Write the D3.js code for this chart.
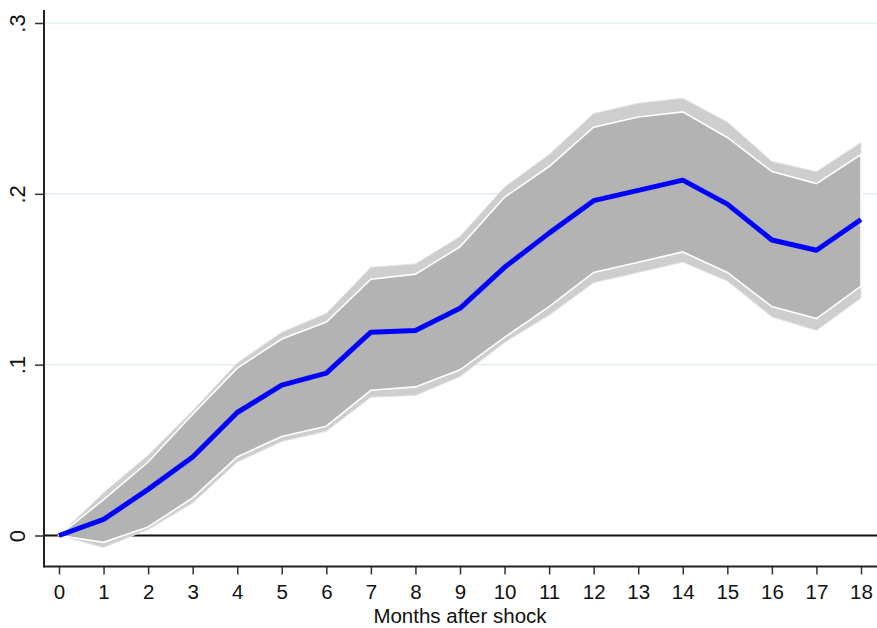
<!DOCTYPE html>
<html><head><meta charset="utf-8">
<script src="https://cdn.jsdelivr.net/npm/d3@7"></script>
<style>body{margin:0;background:#fff}svg{display:block}</style>
</head><body>
<svg id="c" width="877" height="628"></svg>
<script>
const months = [0,1,2,3,4,5,6,7,8,9,10,11,12,13,14,15,16,17,18];
const irf     = [0,.0094,.027,.046,.072,.088,.095,.119,.120,.133,.157,.177,.196,.202,.208,.194,.173,.167,.185];
const hi68    = [0,.021,.043,.071,.098,.115,.125,.150,.153,.169,.198,.216,.239,.245,.248,.233,.213,.206,.223];
const lo68    = [0,-.004,.005,.022,.046,.058,.064,.085,.087,.097,.116,.134,.154,.160,.166,.154,.134,.127,.146];
const hi90    = [0,.025,.047,.073,.101,.119,.130,.157,.159,.175,.204,.223,.247,.253,.256,.242,.219,.213,.230];
const lo90    = [0,-.007,.0035,.019,.043,.055,.061,.081,.082,.093,.113,.129,.148,.154,.160,.149,.128,.120,.139];
const yTicks  = [0,.1,.2,.3];
const yTickLabels = ["0",".1",".2",".3"];
const xTitle = "Months after shock";

const svg = d3.select("#c");
const font = "'Liberation Sans', Arial, sans-serif";
const x = d3.scaleLinear().domain([0,18]).range([59,861]);
const y = d3.scaleLinear().domain([0,.3]).range([535.5,23]);
const axisX = 44, axisY = 566.5, topY = 10, rightX = 877;

// gridlines
svg.append("g").selectAll("line").data(yTicks.filter(d=>d>0)).join("line")
  .attr("x1",axisX).attr("x2",rightX).attr("y1",d=>y(d)).attr("y2",d=>y(d))
  .attr("stroke","#e6eff0").attr("stroke-width",1.5);

// zero line
svg.append("line").attr("x1",axisX).attr("x2",rightX).attr("y1",y(0)).attr("y2",y(0))
  .attr("stroke","#111").attr("stroke-width",2);

const idx = months.map((m,i)=>i);
const area = (lo,hi)=>d3.area().x(i=>x(months[i])).y0(i=>y(lo[i])).y1(i=>y(hi[i]));
svg.append("path").datum(idx).attr("d",area(lo90,hi90))
  .attr("fill","#cecece").attr("stroke","#e4e4e4").attr("stroke-width",1);
svg.append("path").datum(idx).attr("d",area(lo68,hi68))
  .attr("fill","#b3b3b3").attr("stroke","#ffffff").attr("stroke-width",1.6);

svg.append("path").datum(idx)
  .attr("d",d3.line().x(i=>x(months[i])).y(i=>y(irf[i])))
  .attr("fill","none").attr("stroke","#0000ff").attr("stroke-width",5)
  .attr("stroke-linejoin","round");

// axes
const ax = svg.append("g").attr("transform",`translate(0,${axisY})`)
  .call(d3.axisBottom(x).tickValues(months).tickSize(8).tickPadding(10).tickFormat(d3.format("d")));
ax.select(".domain").remove();
ax.selectAll("line").attr("stroke","#333").attr("stroke-width",1.5);
ax.selectAll("text").attr("font-family",font).attr("font-size",20.5).attr("fill","#111");
svg.append("line").attr("x1",axisX).attr("x2",rightX).attr("y1",axisY).attr("y2",axisY)
  .attr("stroke","#222").attr("stroke-width",2);

const ay = svg.append("g").attr("transform",`translate(${axisX},0)`)
  .call(d3.axisLeft(y).tickValues(yTicks).tickSize(9).tickFormat((d,i)=>yTickLabels[i]));
ay.select(".domain").remove();
ay.selectAll("line").attr("stroke","#333").attr("stroke-width",1.5);
ay.selectAll("text").remove();
ay.selectAll(".tick").append("text")
  .attr("transform","translate(-26.5,0) rotate(-90)")
  .attr("text-anchor","middle").attr("dy","0.35em")
  .attr("font-family",font).attr("font-size",22).attr("fill","#111")
  .text((d,i)=>yTickLabels[i]);
svg.append("line").attr("x1",axisX).attr("x2",axisX).attr("y1",topY).attr("y2",axisY+1)
  .attr("stroke","#222").attr("stroke-width",2);

svg.append("text").attr("x",460).attr("y",623)
  .attr("text-anchor","middle").attr("font-family",font).attr("font-size",20.5).attr("fill","#111")
  .text(xTitle);
</script>
</body></html>
